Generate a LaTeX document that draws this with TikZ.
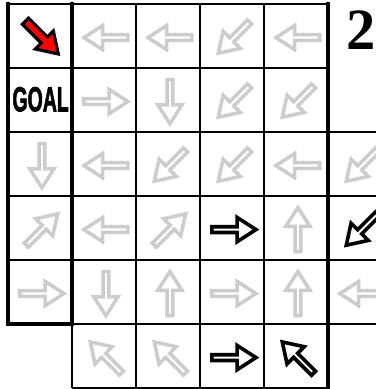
\documentclass[tikz,border=0pt]{standalone}
\usepackage{fontspec}
\newfontfamily\goalfont{Liberation Sans}[BoldFeatures={FakeBold=2.5}]
\newfontfamily\numfont{Liberation Serif}
\definecolor{arrowgray}{RGB}{204,204,204}
\tikzset{
  gridline/.style={line width=0.9pt, black},
  wall/.style={line width=1.7pt, black, line cap=rect},
  pics/cellarrow/.style={code={
    \draw[pic actions, line join=miter]
      (-0.345,#1) -- (0.05,#1) -- (0.05,0.19) -- (0.345,0)
      -- (0.05,-0.19) -- (0.05,-#1) -- (-0.345,-#1) -- cycle;
  }},
  pics/cellarrow/.default=0.045,
  grayarrow/.style={draw=arrowgray, fill=white, line width=1.55pt},
  blackarrow/.style={draw=black, fill=white, line width=1.6pt},
  redarrow/.style={draw=black, fill=red, line width=1.4pt},
}
\begin{document}
\begin{tikzpicture}
\useasboundingbox (-0.125,0.0625) rectangle (5.75,-6.016);
\clip (-0.125,0.0625) rectangle (5.75,-6.016);
% cells
\draw[gridline] (0,0) grid (5,-2);
\draw[gridline] (0,-2) grid (6,-5);
\draw[gridline] (1,-5) grid (5,-6);
% walls
\draw[wall] (0,0) -- (0,-5) -- (1,-5);
\draw[wall] (1,0) -- (1,-5);
\draw[wall] (5,0) -- (5,-6);
\draw[line width=1.3pt] (0,0) -- (5,0);
% policy arrows (column/row/angle)
\foreach \c/\r/\a in {1/0/180, 2/0/180, 3/0/225, 4/0/180,
                      1/1/0, 2/1/270, 3/1/225, 4/1/225,
                      0/2/270, 1/2/180, 2/2/225, 3/2/225, 4/2/180, 5/2/225,
                      0/3/45, 1/3/180, 2/3/45, 4/3/90,
                      0/4/0, 1/4/270, 2/4/90, 3/4/0, 4/4/90, 5/4/180,
                      1/5/135, 2/5/135}
  \pic[grayarrow, rotate=\a] at (\c+0.53,-\r-0.525) {cellarrow};
\foreach \c/\r/\a in {3/3/0, 5/3/225, 3/5/0, 4/5/135}
  \pic[blackarrow, rotate=\a] at (\c+0.53,-\r-0.525) {cellarrow};
\pic[redarrow, rotate=315, scale=1.05] at (0.53,-0.525) {cellarrow=0.065};
% labels
\node[inner sep=0pt] (goal) at (0.51,-1.49)
  {\goalfont\bfseries\fontsize{15.5}{15.5}\selectfont\scalebox{0.56}[1]{GOAL}};
\node[inner sep=0pt] (step) at (5.52,-0.41)
  {\numfont\bfseries\fontsize{26}{26}\selectfont 2};
\end{tikzpicture}
\end{document}
